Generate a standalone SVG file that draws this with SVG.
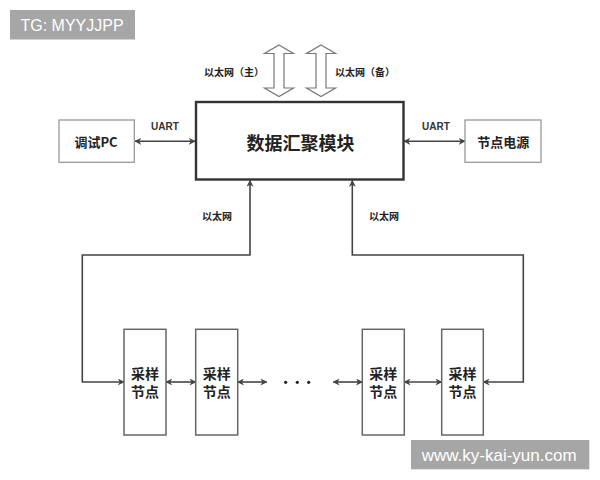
<svg xmlns="http://www.w3.org/2000/svg" width="600" height="480" viewBox="0 0 600 480">
<style>
.cn{font-family:"Noto Sans CJK SC","Liberation Sans",sans-serif;font-weight:bold;fill:#222;text-anchor:middle;dominant-baseline:central}
.lbl{font-size:10px}
.en{font-family:"Liberation Sans",sans-serif;font-weight:bold;font-size:10px;fill:#333;text-anchor:middle;dominant-baseline:central}
.side{fill:#fff;stroke:#999;stroke-width:1.3}
.node{fill:#fff;stroke:#666;stroke-width:1.5}
.ln{fill:none;stroke:#444;stroke-width:1.6}
.hollow{fill:#fff;stroke:#777;stroke-width:1.2}
.wm{fill:#a6a6a6}
.wmt{font-family:"Liberation Sans",sans-serif;fill:#fff}
</style>
<defs>
<marker id="ah" viewBox="0 0 10 10" refX="9" refY="5" markerWidth="7" markerHeight="7" markerUnits="userSpaceOnUse" orient="auto-start-reverse">
<path d="M0,0 L10,5 L0,10 L3,5 z" fill="#444"/>
</marker>
</defs>
<rect width="600" height="480" fill="#fff"/>

<g id="watermark-tg">
<rect class="wm" x="10" y="10" width="125" height="29.5"/>
<text class="wmt" x="20.5" y="30.5" font-size="16">TG: MYYJJPP</text>
</g>

<g id="connectors">
<path class="hollow" d="M279,45 L293.5,53.5 L284,53.5 L284,88 L293.5,88 L279,96.5 L264.5,88 L274,88 L274,53.5 L264.5,53.5 Z"/>
<path class="hollow" d="M321,45 L335.5,53.5 L326,53.5 L326,88 L335.5,88 L321,96.5 L306.5,88 L316,88 L316,53.5 L306.5,53.5 Z"/>
<line class="ln" x1="135" y1="141.3" x2="195" y2="141.3" marker-start="url(#ah)" marker-end="url(#ah)"/>
<line class="ln" x1="404" y1="141.3" x2="465" y2="141.3" marker-start="url(#ah)" marker-end="url(#ah)"/>
<path class="ln" d="M124,382 H82.3 V255 H250 V180.5" marker-start="url(#ah)" marker-end="url(#ah)"/>
<path class="ln" d="M483.3,382 H523.3 V255 H352.3 V180.5" marker-start="url(#ah)" marker-end="url(#ah)"/>
<line class="ln" x1="166" y1="382" x2="195.7" y2="382" marker-start="url(#ah)" marker-end="url(#ah)"/>
<line class="ln" x1="237.7" y1="382" x2="266.7" y2="382" marker-start="url(#ah)" marker-end="url(#ah)"/>
<line class="ln" x1="333.3" y1="382" x2="362.3" y2="382" marker-start="url(#ah)" marker-end="url(#ah)"/>
<line class="ln" x1="404.3" y1="382" x2="441.7" y2="382" marker-start="url(#ah)" marker-end="url(#ah)"/>
<circle cx="285.7" cy="382.3" r="1.6" fill="#222"/>
<circle cx="297.3" cy="382.3" r="1.6" fill="#222"/>
<circle cx="308.7" cy="382.3" r="1.6" fill="#222"/>
<text class="cn lbl" x="234" y="71.5">以太网（主）</text>
<text class="cn lbl" x="365" y="71.5">以太网（备）</text>
<text class="en" x="165" y="126">UART</text>
<text class="en" x="436" y="126">UART</text>
<text class="cn lbl" x="217" y="215.3">以太网</text>
<text class="cn lbl" x="384" y="215.3">以太网</text>
</g>

<g id="main">
<rect x="196" y="102" width="207.5" height="77.5" fill="#fff" stroke="#333" stroke-width="2.4"/>
<text class="cn" x="300.5" y="141.7" font-size="18">数据汇聚模块</text>
</g>

<g id="debug-pc">
<rect class="side" x="59" y="120" width="75.3" height="42.3"/>
<text class="cn" x="96" y="141.7" font-size="13">调试PC</text>
</g>

<g id="power">
<rect class="side" x="465" y="120" width="76" height="42.3"/>
<text class="cn" x="503.3" y="141.7" font-size="13">节点电源</text>
</g>

<g id="node1">
<rect class="node" x="124" y="329.3" width="42" height="105.7"/>
<text class="cn" x="145" y="372.5" font-size="14">采样</text>
<text class="cn" x="145" y="391" font-size="14">节点</text>
</g>
<g id="node2">
<rect class="node" x="195.7" y="329.3" width="42" height="105.7"/>
<text class="cn" x="216.7" y="372.5" font-size="14">采样</text>
<text class="cn" x="216.7" y="391" font-size="14">节点</text>
</g>
<g id="node3">
<rect class="node" x="362.3" y="329.3" width="42" height="105.7"/>
<text class="cn" x="383.3" y="372.5" font-size="14">采样</text>
<text class="cn" x="383.3" y="391" font-size="14">节点</text>
</g>
<g id="node4">
<rect class="node" x="441.7" y="329.3" width="41.6" height="105.7"/>
<text class="cn" x="462.5" y="372.5" font-size="14">采样</text>
<text class="cn" x="462.5" y="391" font-size="14">节点</text>
</g>

<g id="watermark-url">
<rect class="wm" x="411" y="440" width="178.3" height="29.3"/>
<text class="wmt" x="421.7" y="460.5" font-size="17">www.ky-kai-yun.com</text>
</g>
</svg>
